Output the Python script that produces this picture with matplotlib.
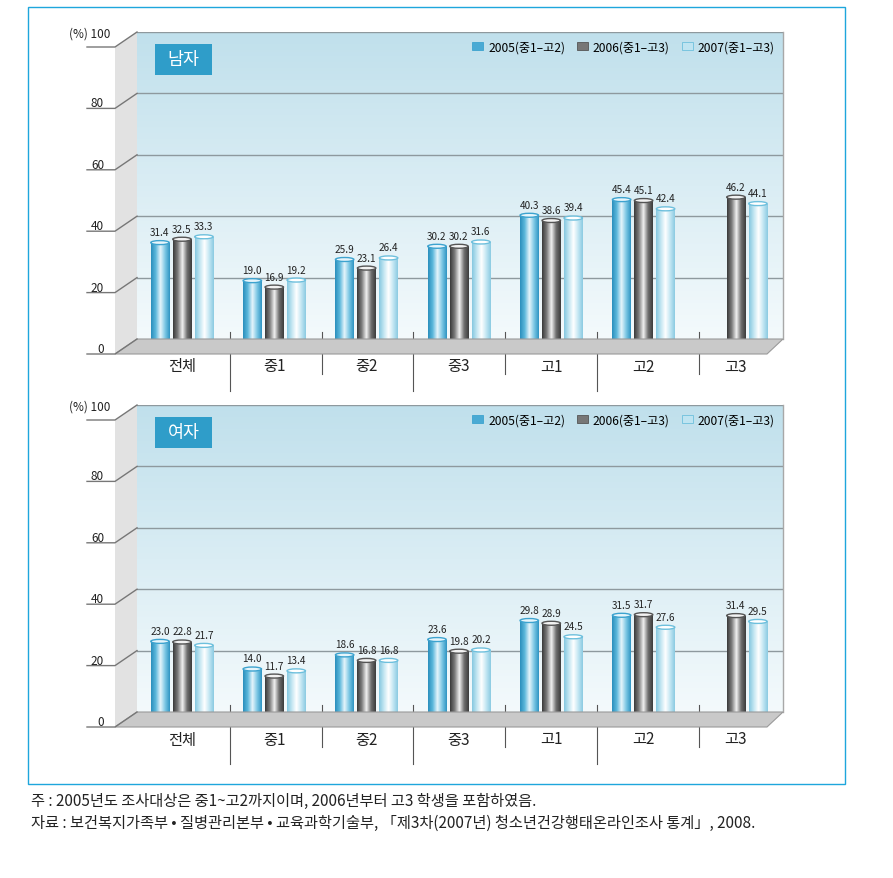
import numpy as np
import matplotlib
matplotlib.use('Agg')
import matplotlib.pyplot as plt
from matplotlib.patches import Polygon, Rectangle, Ellipse, Patch
from matplotlib.lines import Line2D
from matplotlib.colors import LinearSegmentedColormap

plt.rcParams['font.family'] = ['Noto Sans CJK KR', 'DejaVu Sans']

# data
categories = ['전체', '중1', '중2', '중3', '고1', '고2', '고3']
series_labels = ['2005(중1–고2)', '2006(중1–고3)', '2007(중1–고3)']
male_2005 = [31.4, 19.0, 25.9, 30.2, 40.3, 45.4, np.nan]
male_2006 = [32.5, 16.9, 23.1, 30.2, 38.6, 45.1, 46.2]
male_2007 = [33.3, 19.2, 26.4, 31.6, 39.4, 42.4, 44.1]
female_2005 = [23.0, 14.0, 18.6, 23.6, 29.8, 31.5, np.nan]
female_2006 = [22.8, 11.7, 16.8, 19.8, 28.9, 31.7, 31.4]
female_2007 = [21.7, 13.4, 16.8, 20.2, 24.5, 27.6, 29.5]
yticks = [0, 20, 40, 60, 80, 100]
notes = ['주 : 2005년도 조사대상은 중1~고2까지이며, 2006년부터 고3 학생을 포함하였음.',
         '자료 : 보건복지가족부 • 질병관리본부 • 교육과학기술부, 「제3차(2007년) 청소년건강행태온라인조사 통계」, 2008.']

W, H = 893, 879
fig = plt.figure(figsize=(W / 100, H / 100), dpi=100)


def P(x, y):
    return (x / W, 1 - y / H)


# cylinder shading per series
shades = [['#2a8fbd', '#5db8dc', '#e6f5fb', '#7cc7e4', '#2f95c3'],
          ['#3a3a3a', '#7d7d7d', '#f2f2f2', '#707070', '#3c3c3c'],
          ['#86c8e0', '#c2e6f2', '#ffffff', '#c4e7f3', '#8ccbe2']]
caps = ['#3da3cf', '#555555', '#6ec0dd']
legend_colors = ['#4aaad4', '#777777', '#bfe4f1']

L, R = 137, 783
DX, DY = 22, 15
xpos = np.arange(len(categories))
offsets = [-0.238, 0.0, 0.238]
bw = 0.2
seps = [0.52, 1.52, 2.5, 3.5, 4.49, 5.6]


def panel(T, B, title, series):
    ax = fig.add_axes([L / W, 1 - B / H, (R - L) / W, (B - T) / H])
    x0, x1 = -0.487, 6.51
    ax.set_xlim(x0, x1)
    ax.set_ylim(0, 100)
    ax.axis('off')
    scale = (B - T) / 100.0

    # back wall gradient
    bg = LinearSegmentedColormap.from_list('bg', ['#f4fafc', '#c0e0ec'])
    grad = np.linspace(0, 1, 256).reshape(-1, 1)
    ax.imshow(grad, extent=[x0, x1, 0, 100], origin='lower', aspect='auto',
              cmap=bg, zorder=0)
    for v in yticks[1:]:
        ax.axhline(v, color='#8e999e', lw=1.0, zorder=1)
    ax.plot([x1, x1], [0, 100], color='#a8a8a8', lw=1.0, zorder=1, clip_on=False)

    # left wall, floor
    fig.add_artist(Polygon([P(L - DX, T + DY), P(L, T), P(L, B), P(L - DX, B + DY)],
                           closed=True, transform=fig.transFigure,
                           facecolor='#e2e2e2', edgecolor='none', zorder=0.5))
    fig.add_artist(Polygon([P(L, B), P(R, B), P(R - 16, B + DY), P(L - DX, B + DY)],
                           closed=True, transform=fig.transFigure,
                           facecolor='#c9c9c9', edgecolor='#9a9a9a', lw=0.8, zorder=1))
    for v in yticks:
        yb = B - v * scale
        yf = yb + DY
        xs, ys = zip(P(87, yf), P(L - DX, yf), P(L, yb))
        fig.add_artist(Line2D(xs, ys, transform=fig.transFigure, color='#777777',
                              lw=1.0, zorder=1.2))
        if v == 100:
            fig.text(*P(110, yf - 10), '(%) 100', ha='right', va='baseline',
                     fontsize=8.5, color='#222222')
        else:
            fig.text(*P(104, yf - 2), str(v), ha='right', va='baseline',
                     fontsize=8.5, color='#222222')

    # bars
    for k, vals in enumerate(series):
        vals = np.array(vals, dtype=float)
        cm = LinearSegmentedColormap.from_list('c%d' % k, shades[k])
        hgrad = np.linspace(0, 1, 64).reshape(1, -1)
        bars = ax.bar(xpos + offsets[k], np.nan_to_num(vals), width=bw,
                      color=shades[k][1], zorder=3)
        for b, v in zip(bars, vals):
            if np.isnan(v):
                b.set_visible(False)
                continue
            bx, by = b.get_x(), b.get_y()
            im = ax.imshow(hgrad, extent=[bx, bx + bw, by, by + v], aspect='auto',
                           cmap=cm, zorder=3.5)
            im.set_clip_path(b)
            ax.add_patch(Ellipse((bx + bw / 2, v), bw, 1.3, facecolor=shades[k][2],
                                 edgecolor=caps[k], lw=1.0, zorder=4))
            ax.annotate(f'{v:.1f}', (bx + bw / 2, v), xytext=(0, 4),
                        textcoords='offset points', ha='center', va='bottom',
                        fontsize=7.2, color='#222222', zorder=5)

    # category labels and separators
    for i, c in enumerate(categories):
        ax.text(i, -27 / scale, c, ha='center', va='center', fontsize=11,
                color='#222222')
    for j, s in enumerate(seps):
        bottom = -52 / scale if j % 2 == 0 else -35 / scale
        ax.plot([s, s], [7 / scale, bottom], color='#555555', lw=0.8,
                clip_on=False, zorder=2)

    # title box
    fig.add_artist(Rectangle(P(155, T + 43), 57 / W, 31 / H, transform=fig.transFigure,
                             facecolor='#2f9dc9', edgecolor='none', zorder=2))
    fig.text(*P(183.5, T + 27.5), title, ha='center', va='center', fontsize=12.5,
             color='white', zorder=3)

    handles = [Patch(facecolor=legend_colors[k], edgecolor=caps[k], lw=0.6)
               for k in range(3)]
    ax.legend(handles, series_labels, loc='upper right', bbox_to_anchor=(1.0, 1.0),
              ncol=3, frameon=False, fontsize=8.7, handlelength=0.9,
              handleheight=0.7, handletextpad=0.4, columnspacing=1.0,
              borderaxespad=0.3)
    return ax


panel(33, 340, '남자', [male_2005, male_2006, male_2007])
panel(406, 713, '여자', [female_2005, female_2006, female_2007])

# outer frame
fig.add_artist(Rectangle(P(28, 785), (845 - 28) / W, (785 - 8) / H,
                         transform=fig.transFigure, facecolor='none',
                         edgecolor='#1ea6dc', lw=1.0, zorder=0.2))

fig.text(*P(31, 801), notes[0], ha='left', va='center', fontsize=11, color='#222222')
fig.text(*P(31, 823), notes[1], ha='left', va='center', fontsize=11, color='#222222')

fig.savefig('out.png', dpi=100)
